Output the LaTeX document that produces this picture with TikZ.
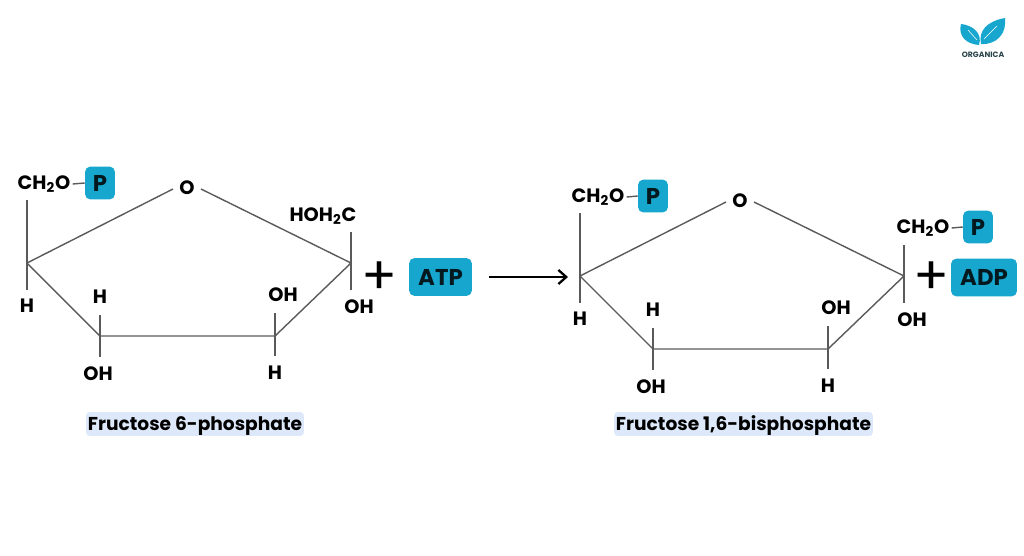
\documentclass[tikz,border=0pt]{standalone}
\usepackage{fontspec}
\setmainfont{Poppins}[BoldFont={Poppins Bold}]
\usetikzlibrary{arrows.meta}
\definecolor{tagblue}{HTML}{17A7CE}
\definecolor{capblue}{HTML}{DDE9FA}
\definecolor{inkgrey}{HTML}{5A5A5A}
\tikzset{
	atom/.style={inner sep=0pt, font=\fontsize{11pt}{12pt}\bfseries, text=black},
	tag/.style={fill=tagblue, rounded corners=3pt, inner sep=0pt, font=\fontsize{13pt}{14pt}\bfseries, text=black!85!tagblue},
	caption/.style={fill=capblue, rounded corners=2pt, inner xsep=1pt, inner ysep=0pt, minimum height=13.6pt, text height=10pt, text depth=2.3pt, font=\fontsize{10.6pt}{12pt}\bfseries, text=black},
	bond/.style={draw=inkgrey, line width=0.8pt},
	plus/.style={inner sep=0pt, font=\fontsize{30pt}{30pt}\selectfont, text=black}
}

\begin{document}
\begin{tikzpicture}[x=0.02cm, y=-0.02cm]
	\useasboundingbox (0,0) rectangle (1024,555);

	%%%%% LEFT RING %%%%%
	\coordinate (lc2) at (27,263);
	\coordinate (lc3) at (100,336);
	\coordinate (lc4) at (275,336);
	\coordinate (lc5) at (351,263);
	\coordinate (lt2) at (27,200);
	\coordinate (lb2) at (27,290);
	\coordinate (lt3) at (100,315);
	\coordinate (lb3) at (100,357);
	\coordinate (lt4) at (275,313);
	\coordinate (lb4) at (275,356);
	\coordinate (lt5) at (351,232);
	\coordinate (lb5) at (351,290);
	\coordinate (lo1) at (173,189);
	\coordinate (lo2) at (201,189);

	\node[atom] (lo) at (187,188) {O};
	\node[atom] (lch) at (44,184) {CH\textsubscript{2}O};
	\node[tag, minimum width=17pt, minimum height=18.7pt] (lp) at (100,183) {P};
	\node[atom] (lh2) at (27,306) {H};
	\node[atom] (lh3) at (100,297) {H};
	\node[atom] (loh3) at (98,374) {OH};
	\node[atom] (loh4) at (283,295) {OH};
	\node[atom] (lh4) at (275,373) {H};
	\node[atom] (loh5) at (359,307) {OH};
	\node[atom] (lhoh) at (323,216) {HOH\textsubscript{2}C};

	\draw[bond] (lc2) -- (lo1);
	\draw[bond] (lo2) -- (lc5) -- (lc4) -- (lc3) -- (lc2);
	\draw[bond] (lt2) -- (lb2);
	\draw[bond] (lt3) -- (lb3);
	\draw[bond] (lt4) -- (lb4);
	\draw[bond] (lt5) -- (lb5);
	\draw[bond] (lch.east) ++(2,0) -- (lp.west);

	\node[plus] (plusa) at (379,278) {+};
	\node[tag, minimum width=35.7pt, minimum height=21.5pt] (atp) at (440.5,277) {ATP};

	%%%%% ARROW %%%%%
	\coordinate (arrowa) at (489,277);
	\coordinate (arrowb) at (568,277);
	\draw[-{Straight Barb[length=4.5pt, width=8pt]}, line width=1.3pt] (arrowa) -- (arrowb);

	%%%%% RIGHT RING %%%%%
	\coordinate (rc2) at (580,276);
	\coordinate (rc3) at (653,349);
	\coordinate (rc4) at (828,349);
	\coordinate (rc5) at (904,276);
	\coordinate (rt2) at (580,213);
	\coordinate (rb2) at (580,303);
	\coordinate (rt3) at (653,328);
	\coordinate (rb3) at (653,370);
	\coordinate (rt4) at (828,326);
	\coordinate (rb4) at (828,369);
	\coordinate (rt5) at (904,245);
	\coordinate (rb5) at (904,303);
	\coordinate (ro1) at (726,202);
	\coordinate (ro2) at (754,202);

	\node[atom] (ro) at (740,201) {O};
	\node[atom] (rch) at (598,197) {CH\textsubscript{2}O};
	\node[tag, minimum width=17pt, minimum height=18.7pt] (rp) at (653,196) {P};
	\node[atom] (rh2) at (580,319) {H};
	\node[atom] (rh3) at (653,310) {H};
	\node[atom] (roh3) at (651,387) {OH};
	\node[atom] (roh4) at (836,308) {OH};
	\node[atom] (rh4) at (828,386) {H};
	\node[atom] (roh5) at (912,320) {OH};
	\node[atom] (rchb) at (923,228) {CH\textsubscript{2}O};
	\node[tag, minimum width=17pt, minimum height=18.7pt] (rpb) at (978,227) {P};

	\draw[bond] (rc2) -- (ro1);
	\draw[bond] (ro2) -- (rc5) -- (rc4) -- (rc3) -- (rc2);
	\draw[bond] (rt2) -- (rb2);
	\draw[bond] (rt3) -- (rb3);
	\draw[bond] (rt4) -- (rb4);
	\draw[bond] (rt5) -- (rb5);
	\draw[bond] (rch.east) ++(2,0) -- (rp.west);
	\draw[bond] (rchb.east) ++(2,0) -- (rpb.west);

	\node[plus] (plusb) at (931,278) {+};
	\node[tag, minimum width=37.5pt, minimum height=21.5pt] (adp) at (984,277.5) {ADP};

	%%%%% CAPTIONS %%%%%
	\node[caption] (capa) at (195,424) {Fructose 6-phosphate};
	\node[caption] (capb) at (743.5,424) {Fructose 1,6-bisphosphate};

	%%%%% LOGO %%%%%
	\fill[tagblue] (979,45) .. controls (965,44) and (958,35) .. (961,24) .. controls (972,25) and (983,33) .. (979,45);
	\fill[tagblue] (981,44) .. controls (978,30) and (988,21) .. (1005,18) .. controls (1007,33) and (997,45) .. (981,44);
	\draw[white, line width=0.3pt] (977,40) -- (968,30);
	\draw[white, line width=0.3pt] (984,39) -- (997,26);
	\node[inner sep=0pt, font=\fontsize{4.4pt}{5pt}\bfseries, text=inkgrey!70!tagblue!60!black] (logo) at (983,55) {ORGANICA};
\end{tikzpicture}
\end{document}
